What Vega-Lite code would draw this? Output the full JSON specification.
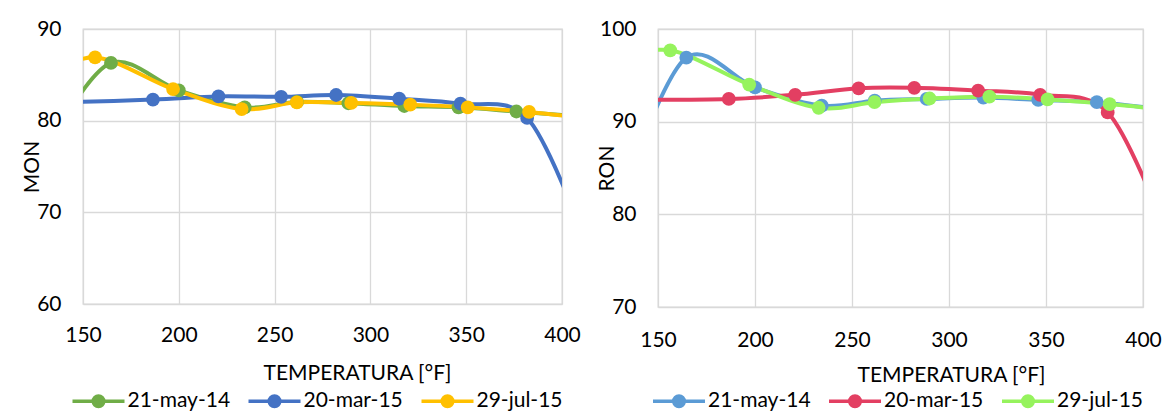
{
  "$schema": "https://vega.github.io/schema/vega-lite/v6.json",
  "background": "white",
  "padding": {"left": 20, "top": 17, "right": 5, "bottom": 0},
  "autosize": {"type": "pad"},
  "bounds": "flush",
  "spacing": 96,
  "config": {
    "font": "Lato",
    "view": {"stroke": "#d9d9d9", "strokeWidth": 1.3},
    "axis": {
      "grid": true, "gridColor": "#d9d9d9", "gridWidth": 1.3, "domain": false, "ticks": false,
      "labelFont": "Lato", "labelFontSize": 21, "labelColor": "#000000", "labelFlush": false,
      "titleFont": "Lato", "titleFontSize": 21, "titleFontWeight": "normal", "titleColor": "#000000"
    },
    "legend": {
      "symbolType": "M-1,0L1,0 M-0.06,0A0.06,0.06 0 1,1 0.06,0A0.06,0.06 0 1,1 -0.06,0 M-0.13,0A0.13,0.13 0 1,1 0.13,0A0.13,0.13 0 1,1 -0.13,0 M-0.2,0A0.2,0.2 0 1,1 0.2,0A0.2,0.2 0 1,1 -0.2,0",
      "symbolSize": 2704, "symbolStrokeWidth": 3.6, "symbolOpacity": 1, "symbolFillColor": "transparent",
      "labelFont": "Lato", "labelFontSize": 21, "labelColor": "#000000", "labelOffset": 1,
      "columnPadding": 10, "padding": 0, "labelLimit": 300
    }
  },
  "datasets": {
    "mon": [
      {"s": "21-may-14", "t": 135, "v": 78.4},
      {"s": "21-may-14", "t": 164.6, "v": 86.3},
      {"s": "21-may-14", "t": 200, "v": 83.3},
      {"s": "21-may-14", "t": 234.4, "v": 81.45},
      {"s": "21-may-14", "t": 261.7, "v": 82.05},
      {"s": "21-may-14", "t": 288.5, "v": 81.9},
      {"s": "21-may-14", "t": 317.7, "v": 81.6},
      {"s": "21-may-14", "t": 346, "v": 81.45},
      {"s": "21-may-14", "t": 376.2, "v": 81.0},
      {"s": "21-may-14", "t": 405, "v": 80.55},
      {"s": "20-mar-15", "t": 140, "v": 82.0},
      {"s": "20-mar-15", "t": 186.5, "v": 82.3},
      {"s": "20-mar-15", "t": 220.7, "v": 82.65},
      {"s": "20-mar-15", "t": 253.4, "v": 82.6},
      {"s": "20-mar-15", "t": 282.1, "v": 82.8},
      {"s": "20-mar-15", "t": 315, "v": 82.4},
      {"s": "20-mar-15", "t": 347, "v": 81.85},
      {"s": "20-mar-15", "t": 381.8, "v": 80.3},
      {"s": "20-mar-15", "t": 410, "v": 68},
      {"s": "29-jul-15", "t": 128, "v": 84.3},
      {"s": "29-jul-15", "t": 156.3, "v": 86.9},
      {"s": "29-jul-15", "t": 197, "v": 83.45},
      {"s": "29-jul-15", "t": 232.8, "v": 81.27},
      {"s": "29-jul-15", "t": 261.6, "v": 82.0},
      {"s": "29-jul-15", "t": 290, "v": 81.93},
      {"s": "29-jul-15", "t": 320.8, "v": 81.75},
      {"s": "29-jul-15", "t": 350.8, "v": 81.45},
      {"s": "29-jul-15", "t": 382.8, "v": 80.95},
      {"s": "29-jul-15", "t": 410, "v": 80.3}
    ],
    "ron": [
      {"s": "21-may-14", "t": 135, "v": 84.0},
      {"s": "21-may-14", "t": 164.6, "v": 96.9},
      {"s": "21-may-14", "t": 200, "v": 93.7},
      {"s": "21-may-14", "t": 234.4, "v": 91.73},
      {"s": "21-may-14", "t": 261.7, "v": 92.27},
      {"s": "21-may-14", "t": 288.5, "v": 92.45},
      {"s": "21-may-14", "t": 317.7, "v": 92.6},
      {"s": "21-may-14", "t": 346, "v": 92.35},
      {"s": "21-may-14", "t": 376.2, "v": 92.1},
      {"s": "21-may-14", "t": 405, "v": 91.45},
      {"s": "20-mar-15", "t": 140, "v": 92.35},
      {"s": "20-mar-15", "t": 186.5, "v": 92.45},
      {"s": "20-mar-15", "t": 220.7, "v": 92.9},
      {"s": "20-mar-15", "t": 253.4, "v": 93.6},
      {"s": "20-mar-15", "t": 282.1, "v": 93.65},
      {"s": "20-mar-15", "t": 315, "v": 93.35},
      {"s": "20-mar-15", "t": 347, "v": 92.9},
      {"s": "20-mar-15", "t": 381.8, "v": 91.0},
      {"s": "20-mar-15", "t": 410, "v": 79},
      {"s": "29-jul-15", "t": 128, "v": 96.5},
      {"s": "29-jul-15", "t": 156.3, "v": 97.7},
      {"s": "29-jul-15", "t": 197, "v": 94.0},
      {"s": "29-jul-15", "t": 232.8, "v": 91.5},
      {"s": "29-jul-15", "t": 261.6, "v": 92.1},
      {"s": "29-jul-15", "t": 290, "v": 92.5},
      {"s": "29-jul-15", "t": 320.8, "v": 92.7},
      {"s": "29-jul-15", "t": 350.8, "v": 92.4},
      {"s": "29-jul-15", "t": 382.8, "v": 91.9},
      {"s": "29-jul-15", "t": 410, "v": 91.3}
    ]
  },
  "resolve": {
    "scale": {"x": "independent", "y": "independent", "color": "independent"},
    "legend": {"color": "independent"}
  },
  "hconcat": [
    {
      "width": 479,
      "height": 275,
      "data": {"name": "mon"},
      "encoding": {
        "x": {"field": "t", "type": "quantitative",
              "scale": {"domain": [150, 400], "nice": false, "zero": false},
              "axis": {"values": [150, 200, 250, 300, 350, 400], "title": "TEMPERATURA [°F]", "labelPadding": 20, "titlePadding": 17, "titleX": 274}},
        "y": {"field": "v", "type": "quantitative",
              "scale": {"domain": [60, 90], "nice": false, "zero": false},
              "axis": {"values": [60, 70, 80, 90], "title": "MON", "labelPadding": 22, "titlePadding": -6}},
        "color": {"field": "s", "type": "nominal",
                  "scale": {"domain": ["21-may-14", "20-mar-15", "29-jul-15"], "range": ["#70AD47", "#4472C4", "#FFC000"]},
                  "legend": {"orient": "none", "direction": "horizontal", "title": null, "legendX": -12.5, "legendY": 344}}
      },
      "layer": [
        {"mark": {"type": "line", "interpolate": "cardinal", "tension": 0, "strokeWidth": 4, "clip": true}},
        {"mark": {"type": "point", "filled": true, "size": 190, "opacity": 1, "clip": true}}
      ]
    },
    {
      "width": 485,
      "height": 278,
      "data": {"name": "ron"},
      "encoding": {
        "x": {"field": "t", "type": "quantitative",
              "scale": {"domain": [150, 400], "nice": false, "zero": false},
              "axis": {"values": [150, 200, 250, 300, 350, 400], "title": "TEMPERATURA [°F]", "labelPadding": 22, "titlePadding": 14, "titleX": 293}},
        "y": {"field": "v", "type": "quantitative",
              "scale": {"domain": [70, 100], "nice": false, "zero": false},
              "axis": {"values": [70, 80, 90, 100], "title": "RON", "labelPadding": 22, "titlePadding": -18}},
        "color": {"field": "s", "type": "nominal",
                  "scale": {"domain": ["21-may-14", "20-mar-15", "29-jul-15"], "range": ["#5B9BD5", "#E33F62", "#96F35D"]},
                  "legend": {"orient": "none", "direction": "horizontal", "title": null, "legendX": -7, "legendY": 344}}
      },
      "layer": [
        {"mark": {"type": "line", "interpolate": "cardinal", "tension": 0, "strokeWidth": 4, "clip": true}},
        {"mark": {"type": "point", "filled": true, "size": 190, "opacity": 1, "clip": true}}
      ]
    }
  ]
}
